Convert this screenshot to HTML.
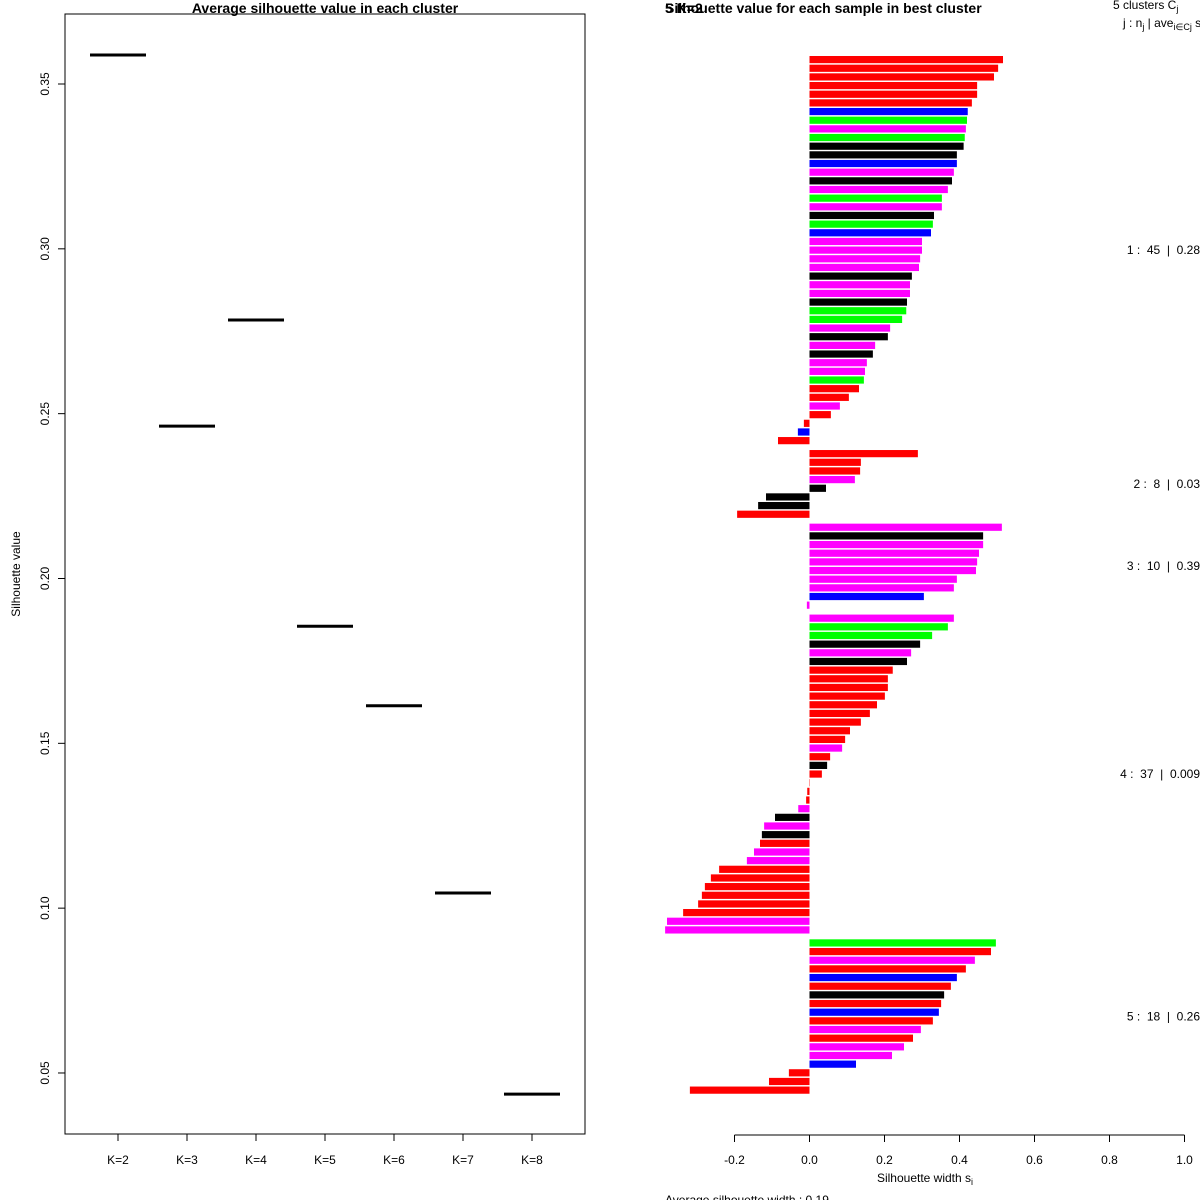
<!DOCTYPE html>
<html><head><meta charset="utf-8"><style>
html,body{margin:0;padding:0;background:#fff;}
svg{display:block;font-family:"Liberation Sans",sans-serif;}
.pre{white-space:pre;}
</style></head><body>
<svg id="chart" width="1200" height="1200" viewBox="0 0 1200 1200" xmlns="http://www.w3.org/2000/svg">
<text x="325" y="13" text-anchor="middle" font-size="14" font-weight="bold">Average silhouette value in each cluster</text>
<text x="665" y="13" font-size="14" font-weight="bold">Silhouette value for each sample in best cluster</text>
<text x="665" y="13" font-size="14" font-weight="bold">5 K=2</text>
<rect x="65" y="14" width="520" height="1120" fill="none" stroke="#000" stroke-width="1"/>
<text transform="translate(20,574) rotate(-90)" text-anchor="middle" font-size="12">Silhouette value</text>
<text x="925" y="1182" text-anchor="middle" font-size="12">Silhouette width s<tspan font-size="9" dy="3">i</tspan></text>
<text x="665" y="1204" font-size="12">Average silhouette width : 0.19</text>
<text x="1113" y="9" font-size="12">5 clusters C<tspan font-size="9" dy="3">j</tspan></text>
<text x="1123" y="27" font-size="12">j : n<tspan font-size="9" dy="3">j</tspan><tspan dy="-3"> | ave</tspan><tspan font-size="9" dy="3">i∈Cj</tspan><tspan dy="-3"> s</tspan><tspan font-size="9" dy="3">i</tspan></text>
<g id="left"></g>
<g id="right"></g>
</svg>
<script>
const kLabels = ["K=2","K=3","K=4","K=5","K=6","K=7","K=8"];
const kValues = [0.3588,0.2462,0.2784,0.1855,0.1614,0.1046,0.0436];
const leftTicks = [0.05,0.10,0.15,0.20,0.25,0.30,0.35];
const leftTickLabels = ["0.05","0.10","0.15","0.20","0.25","0.30","0.35"];
const clusterSizes = [45,8,10,37,18];
const clusterLabels = ["1 :  45  |  0.28","2 :  8  |  0.03","3 :  10  |  0.39","4 :  37  |  0.009","5 :  18  |  0.26"];
const silValues = [0.516,0.503,0.492,0.447,0.447,0.433,0.422,0.420,0.417,0.414,0.411,0.393,0.393,0.385,0.380,0.369,0.353,0.353,0.332,0.329,0.324,0.300,0.300,0.295,0.292,0.273,0.268,0.268,0.260,0.258,0.247,0.215,0.209,0.175,0.169,0.153,0.148,0.145,0.132,0.105,0.081,0.057,-0.015,-0.031,-0.084,
0.289,0.137,0.135,0.121,0.044,-0.116,-0.137,-0.193,
0.513,0.463,0.463,0.452,0.447,0.444,0.393,0.385,0.305,-0.007,
0.385,0.369,0.327,0.295,0.271,0.260,0.222,0.209,0.209,0.201,0.180,0.161,0.137,0.108,0.095,0.087,0.055,0.047,0.033,0.001,-0.006,-0.009,-0.030,-0.092,-0.121,-0.127,-0.132,-0.148,-0.167,-0.241,-0.263,-0.279,-0.287,-0.297,-0.337,-0.380,-0.385,
0.497,0.484,0.441,0.417,0.393,0.377,0.359,0.351,0.345,0.329,0.297,0.276,0.252,0.220,0.124,-0.055,-0.108,-0.319];
const silColors = "rrrrrrbgmgkkbmkmgmkgbmmmmkmmkggmkmkmmgrrmrrbr"+"rrrmkkkr"+"mkmmmmmmbm"+"mggkmkrrrrrrrrrmrkrrrrmkmkrmmrrrrrrmm"+"grmrbrkrbrmrmmbrrr";
const xTicks = [-0.2,0,0.2,0.4,0.6,0.8,1.0];
const xTickLabels = ["-0.2","0.0","0.2","0.4","0.6","0.8","1.0"];
const colorMap = {r:"#ff0000",g:"#00ff00",b:"#0000ff",m:"#ff00ff",k:"#000000"};
const NS="http://www.w3.org/2000/svg";
function mk(tag,attrs,parent,txt){const e=document.createElementNS(NS,tag);for(const k in attrs)e.setAttribute(k,attrs[k]);if(txt!==undefined)e.textContent=txt;parent.appendChild(e);return e;}
const yL = v => 84 + (0.35 - v) / 0.05 * 164.83;
const xK = i => 118 + i * 69;
const left=document.getElementById('left');
leftTicks.forEach((t,i)=>{
  const l=mk('line',{x1:58,x2:65,y1:yL(t),y2:yL(t),stroke:'#000'},left);
  
  
  const tx=mk('text',{transform:`translate(49,${yL(t)}) rotate(-90)`,'text-anchor':'middle','font-size':12},left,leftTickLabels[i]);
  
  
});
kLabels.forEach((k,i)=>{
  const l=mk('line',{x1:xK(i),x2:xK(i),y1:1134,y2:1141,stroke:'#000'},left);
  
  
  const tx=mk('text',{x:xK(i),y:1164,'text-anchor':'middle','font-size':12},left,k);
  
  
  const s=mk('line',{x1:xK(i)-28,x2:xK(i)+28,y1:yL(kValues[i]),y2:yL(kValues[i]),stroke:'#000','stroke-width':3},left);
  
  
});
const right=document.getElementById('right');
const xR = v => 809.5 + v * 375;
const step=8.66, gap=4.33, bh=7.2;
let idx=0;
clusterSizes.forEach((n,c)=>{
  for(let j=0;j<n;j++){
    const v=silValues[idx];
    const top=56+idx*step+c*gap;
    const x0=Math.min(xR(0),xR(v)), w=Math.abs(xR(v)-xR(0));
    const r=mk('rect',{x:x0,y:top,width:w,height:bh,fill:colorMap[silColors[idx]]},right);
    
    
    idx++;
  }
  const mid=56+(idx-n)*step+c*gap+((n-1)*step)/2+bh/2;
  const t=mk('text',{x:1200,y:mid+4,'text-anchor':'end','font-size':12,'class':'pre'},right,clusterLabels[c]);
  
  
});
const ax=mk('line',{x1:xR(-0.2),x2:xR(1.0),y1:1135,y2:1135,stroke:'#000'},right);


xTicks.forEach((t,i)=>{
  const l=mk('line',{x1:xR(t),x2:xR(t),y1:1135,y2:1142,stroke:'#000'},right);
  
  
  const tx=mk('text',{x:xR(t),y:1164,'text-anchor':'middle','font-size':12},right,xTickLabels[i]);
  
  
});
</script>
</body></html>
